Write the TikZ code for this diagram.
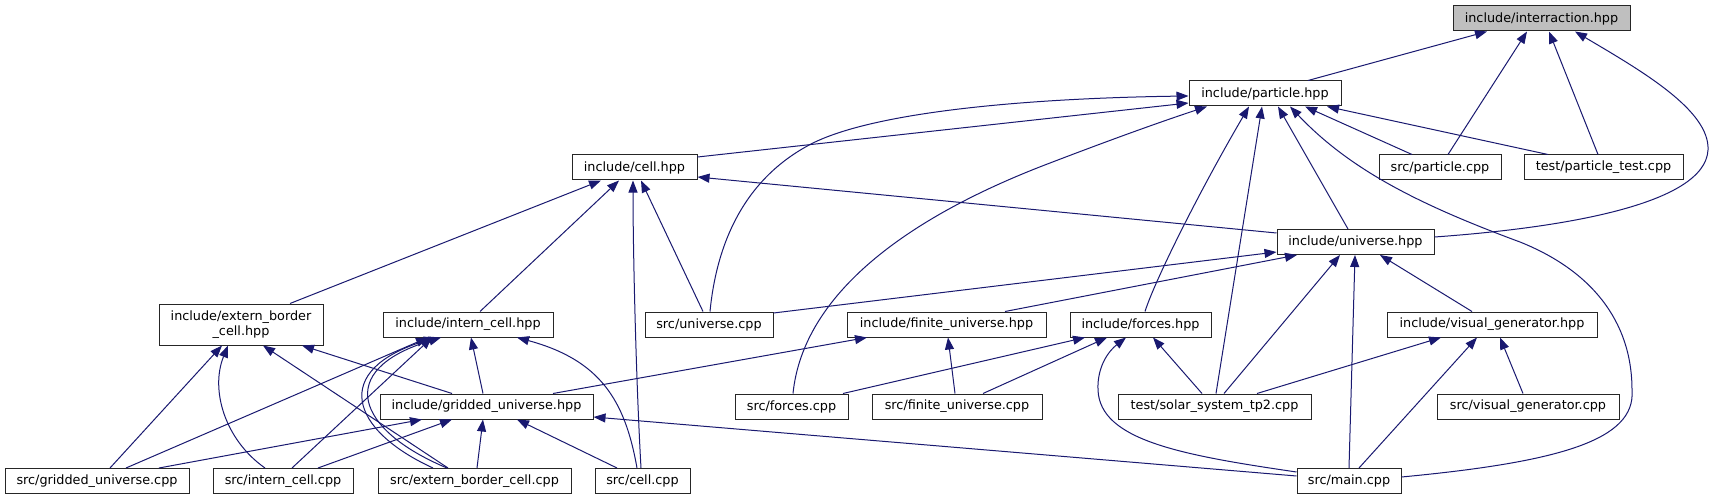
\documentclass[tikz,border=0pt]{standalone}
\usepackage{fontspec}
\setmainfont{DejaVu Sans}
\usetikzlibrary{arrows.meta}
\definecolor{edgeblue}{RGB}{25,25,112}
\definecolor{focusgrey}{RGB}{191,191,191}
\tikzset{
  filebox/.style={draw=black!85, line width=1pt, fill=white, inner sep=0pt,
    minimum height=25pt, font=\fontsize{12.8}{15}\selectfont, text=black},
  edge/.style={draw=edgeblue, line width=1pt,
    -{Triangle[length=12pt,width=9pt,fill=edgeblue]}}
}
\begin{document}
\begin{tikzpicture}[x=1pt,y=-1pt]
\useasboundingbox (0,0) rectangle (1714,500);
\fill[white] (0,0) rectangle (1714,500);

% nodes
\node[filebox, fill=focusgrey, minimum width=177pt] (interaction) at (1541.5,18.5) {include/interraction.hpp};
\node[filebox, minimum width=152pt] (particle) at (1265,93.5) {include/particle.hpp};
\node[filebox, minimum width=125pt] (cell) at (634.5,167.5) {include/cell.hpp};
\node[filebox, minimum width=122pt] (srcparticle) at (1440,167.5) {src/particle.cpp};
\node[filebox, minimum width=159pt] (testparticle) at (1603.5,167.5) {test/particle\_test.cpp};
\node[filebox, minimum width=157pt] (universe) at (1355.5,242) {include/universe.hpp};
\node[filebox, minimum width=164pt, minimum height=41pt, align=center] (extern) at (241,324.5) {include/extern\_border\\\_cell.hpp};
\node[filebox, minimum width=170pt] (intern) at (468,324.5) {include/intern\_cell.hpp};
\node[filebox, minimum width=128pt] (srcuniverse) at (709,324.5) {src/universe.cpp};
\node[filebox, minimum width=199pt] (finite) at (946.5,324.5) {include/finite\_universe.hpp};
\node[filebox, minimum width=141pt] (forces) at (1140.5,324.5) {include/forces.hpp};
\node[filebox, minimum width=210pt] (visual) at (1492,324.5) {include/visual\_generator.hpp};
\node[filebox, minimum width=213pt] (gridded) at (486.5,406.5) {include/gridded\_universe.hpp};
\node[filebox, minimum width=113pt] (srcforces) at (791.5,406.5) {src/forces.cpp};
\node[filebox, minimum width=170pt] (srcfinite) at (957,406.5) {src/finite\_universe.cpp};
\node[filebox, minimum width=193pt] (solar) at (1214.5,406.5) {test/solar\_system\_tp2.cpp};
\node[filebox, minimum width=182pt] (srcvisual) at (1528,406.5) {src/visual\_generator.cpp};
\node[filebox, minimum width=184pt] (srcgridded) at (97,481) {src/gridded\_universe.cpp};
\node[filebox, minimum width=140pt] (srcintern) at (283,481) {src/intern\_cell.cpp};
\node[filebox, minimum width=193pt] (srcextern) at (474.5,481) {src/extern\_border\_cell.cpp};
\node[filebox, minimum width=95pt] (srccell) at (642.5,481) {src/cell.cpp};
\node[filebox, minimum width=104pt] (main) at (1349,481) {src/main.cpp};

% edges to interraction
\draw[edge] (1308,0 |- particle.north) -- (1487,0 |- interaction.south);
\draw[edge] (1448,0 |- srcparticle.north) -- (1527,0 |- interaction.south);
\draw[edge] (1598,0 |- testparticle.north) -- (1549,0 |- interaction.south);
\draw[edge] (universe.east |- 0,237) .. controls (1560,228) and (1705,205) .. (1708,150)
  .. controls (1710,110) and (1640,70) .. (1575,0 |- interaction.south);

% edges to particle
\draw[edge] (cell.east |- 0,157) -- (particle.west |- 0,103);
\draw[edge] (710,0 |- srcuniverse.north) .. controls (716,250) and (740,180) .. (813,143)
  .. controls (880,110) and (1040,98) .. (particle.west |- 0,96);
\draw[edge] (793,0 |- srcforces.north) .. controls (803,295) and (905,218) .. (1050,163)
  .. controls (1110,140) and (1160,122) .. (1207,0 |- particle.south);
\draw[edge] (1145,0 |- forces.north) .. controls (1155,280) and (1200,190) .. (1249,0 |- particle.south);
\draw[edge] (1216,0 |- solar.north) -- (1262,0 |- particle.south);
\draw[edge] (1348,0 |- universe.north) -- (1278,0 |- particle.south);
\draw[edge] (main.east |- 0,477) .. controls (1560,462) and (1636,440) .. (1632,390)
  .. controls (1632,320) and (1590,270) .. (1520,242)
  .. controls (1420,205) and (1350,170) .. (1290,0 |- particle.south);
\draw[edge] (1412,0 |- srcparticle.north) -- (1305,0 |- particle.south);
\draw[edge] (1548,0 |- testparticle.north) -- (1327,0 |- particle.south);

% edges to cell
\draw[edge] (290,0 |- extern.north) -- (601,0 |- cell.south);
\draw[edge] (480,0 |- intern.north) -- (619,0 |- cell.south);
\draw[edge] (641,0 |- srccell.north) .. controls (636,380) and (633,250) .. (633,0 |- cell.south);
\draw[edge] (703,0 |- srcuniverse.north) -- (641,0 |- cell.south);
\draw[edge] (universe.west |- 0,233) -- (cell.east |- 0,177);

% edges to universe
\draw[edge] (srcuniverse.east |- 0,313) -- (universe.west |- 0,252);
\draw[edge] (1005,0 |- finite.north) -- (1297,0 |- universe.south);
\draw[edge] (1224,0 |- solar.north) -- (1340,0 |- universe.south);
\draw[edge] (1349,0 |- main.north) -- (1355,0 |- universe.south);
\draw[edge] (1472,0 |- visual.north) -- (1380,0 |- universe.south);

% edges to extern_border_cell.hpp
\draw[edge] (110,0 |- srcgridded.north) -- (222,0 |- extern.south);
\draw[edge] (265,0 |- srcintern.north) .. controls (225,440) and (210,390) .. (228,0 |- extern.south);
\draw[edge] (448,0 |- srcextern.north) -- (263,0 |- extern.south);
\draw[edge] (452,0 |- gridded.north) -- (302,0 |- extern.south);

% edges to intern_cell.hpp
\draw[edge] (126,0 |- srcgridded.north) -- (428,0 |- intern.south);
\draw[edge] (292,0 |- srcintern.north) -- (432,0 |- intern.south);
\draw[edge] (433,0 |- srcextern.north) .. controls (350,430) and (330,370) .. (436,0 |- intern.south);
\draw[edge] (447,0 |- srcextern.north) .. controls (356,430) and (334,370) .. (441,0 |- intern.south);
\draw[edge] (483,0 |- gridded.north) -- (471,0 |- intern.south);
\draw[edge] (637,0 |- srccell.north) .. controls (625,400) and (600,360) .. (517,0 |- intern.south);

% edges to gridded_universe.hpp
\draw[edge] (159,0 |- srcgridded.north) -- (422,0 |- gridded.south);
\draw[edge] (318,0 |- srcintern.north) -- (452,0 |- gridded.south);
\draw[edge] (477,0 |- srcextern.north) -- (483,0 |- gridded.south);
\draw[edge] (617,0 |- srccell.north) -- (517,0 |- gridded.south);
\draw[edge] (main.west |- 0,476) -- (gridded.east |- 0,417);

% edges to finite_universe.hpp
\draw[edge] (553,0 |- gridded.north) -- (867,0 |- finite.south);
\draw[edge] (955,0 |- srcfinite.north) -- (948,0 |- finite.south);

% edges to forces.hpp
\draw[edge] (843,0 |- srcforces.north) -- (1085,0 |- forces.south);
\draw[edge] (983,0 |- srcfinite.north) -- (1107,0 |- forces.south);
\draw[edge] (1202,0 |- solar.north) -- (1153,0 |- forces.south);
\draw[edge] (main.west |- 0,472) .. controls (1180,455) and (1100,440) .. (1098,390)
  .. controls (1097,365) and (1110,350) .. (1126,0 |- forces.south);

% edges to visual_generator.hpp
\draw[edge] (1257,0 |- solar.north) -- (1441,0 |- visual.south);
\draw[edge] (1359,0 |- main.north) -- (1477,0 |- visual.south);
\draw[edge] (1523,0 |- srcvisual.north) -- (1500,0 |- visual.south);
\end{tikzpicture}
\end{document}
